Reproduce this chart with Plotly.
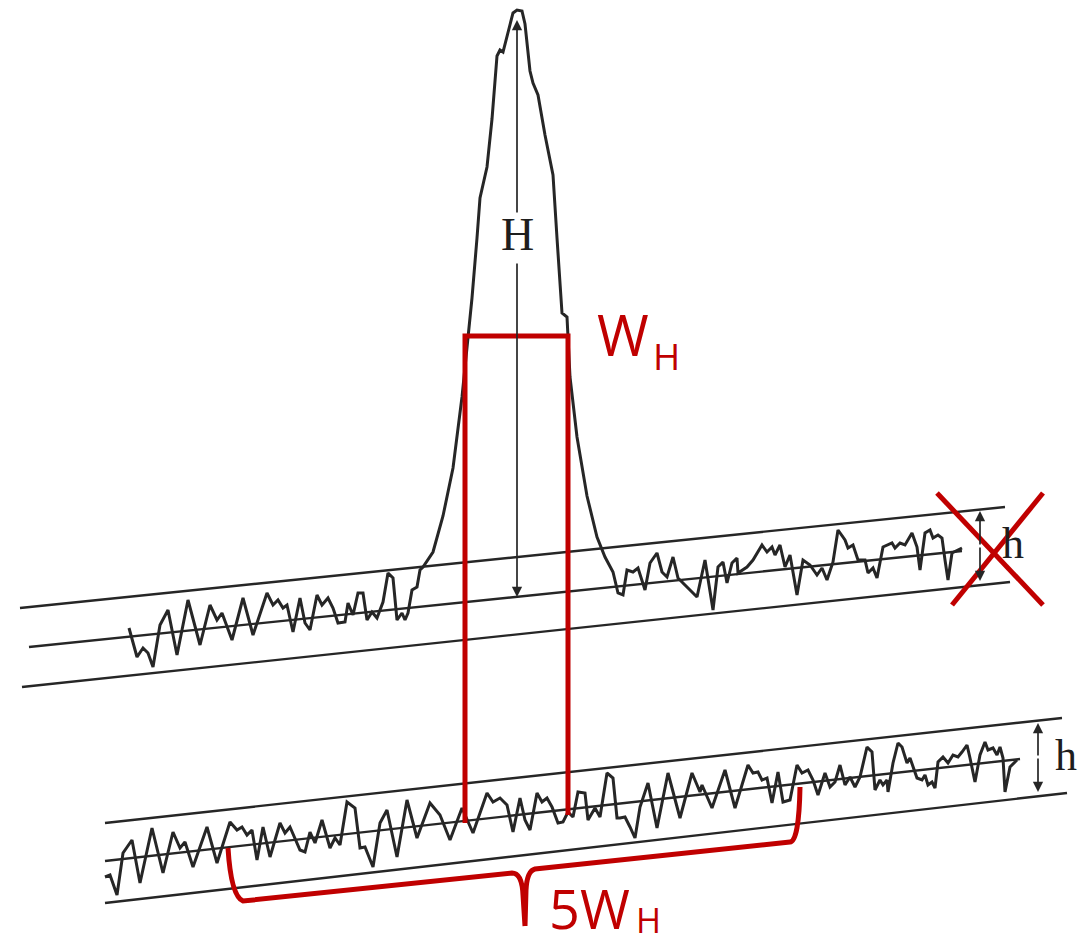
import plotly.graph_objects as go

# ---- data (pixel space of the 1080x946 figure) ----
# upper chromatogram: baseline noise left of the peak, the peak, baseline noise right of it
upper_left_x = [129, 137, 143, 148, 153, 160, 168, 177, 188, 200, 210, 217, 222, 232, 243, 253, 267, 273, 278, 283,
                287, 293, 300, 305, 310, 317, 322, 328, 333, 338, 345, 348, 353, 358, 363, 367, 372, 377, 383, 388,
                393, 397, 402, 405, 408, 412, 417, 420]
upper_left_y = [628, 657, 648, 653, 667, 625, 610, 655, 600, 645, 605, 620, 613, 640, 598, 635, 593, 605, 600, 608,
                605, 632, 598, 623, 630, 595, 605, 598, 608, 623, 622, 603, 615, 593, 593, 620, 612, 618, 602, 573,
                578, 620, 613, 620, 613, 590, 587, 570]
peak_x = [423, 433, 443, 453, 462, 467, 472, 477, 480, 487, 492, 497, 500, 503, 507, 510, 513, 517, 522, 525, 530,
          533, 538, 545, 553, 557, 562, 567, 568, 570, 577, 587, 597, 605, 613, 618, 623]
peak_y = [567, 552, 516, 468, 397, 345, 298, 238, 198, 167, 119, 56, 50, 52, 36, 22, 13, 10, 11, 24, 71,
          83, 95, 135, 175, 238, 313, 317, 337, 377, 437, 496, 537, 557, 572, 593, 595]
upper_right_x = [627, 633, 638, 645, 650, 657, 662, 667, 673, 678, 697, 705, 713, 718, 723, 727, 732, 737, 738, 747,
                 753, 762, 767, 772, 775, 780, 785, 790, 797, 803, 810, 817, 822, 827, 833, 838, 845, 848, 853, 858,
                 865, 868, 873, 877, 883, 892, 895, 900, 905, 912, 917, 920, 925, 930, 933, 938, 942, 945, 948, 952, 962]
upper_right_y = [570, 572, 568, 590, 563, 553, 572, 577, 557, 578, 597, 560, 610, 567, 562, 583, 563, 558, 573, 567,
                 560, 545, 552, 547, 555, 545, 567, 555, 595, 560, 565, 575, 568, 580, 562, 530, 540, 548, 545, 560,
                 560, 573, 568, 578, 547, 543, 548, 543, 545, 533, 547, 570, 533, 530, 538, 535, 538, 560, 580, 553, 548]

# lower chromatogram: baseline noise only
lower_x = [105, 110, 117, 123, 132, 140, 152, 163, 173, 180, 185, 193, 207, 217, 230, 237, 242, 247, 252, 257,
           263, 270, 280, 285, 290, 300, 305, 310, 315, 322, 330, 335, 340, 347, 355, 360, 365, 373, 380, 387,
           397, 407, 417, 430, 440, 450, 462, 473, 487, 493, 500, 507, 513, 520, 525, 530, 537, 542, 547, 552,
           558, 563, 568, 573, 578, 585, 588, 595, 600, 607, 613, 617, 620, 625, 630, 635, 640, 648, 657, 668,
           680, 692, 700, 702, 712, 725, 735, 748, 753, 758, 762, 767, 772, 778, 783, 790, 797, 802, 808, 813,
           818, 825, 830, 835, 840, 845, 850, 855, 860, 867, 872, 875, 880, 883, 887, 888, 893, 898, 902, 907,
           910, 917, 922, 925, 928, 932, 935, 938, 943, 948, 953, 958, 962, 967, 970, 975, 980, 985, 988, 993,
           997, 1000, 1003, 1005, 1010, 1017]
lower_y = [877, 875, 895, 853, 840, 883, 828, 873, 832, 848, 842, 867, 827, 863, 822, 830, 827, 835, 830, 860,
           827, 857, 823, 833, 827, 850, 852, 832, 843, 820, 848, 838, 845, 802, 808, 848, 847, 867, 823, 810,
           857, 800, 838, 803, 815, 840, 808, 833, 793, 802, 798, 805, 832, 798, 820, 830, 793, 802, 798, 807,
           823, 822, 812, 817, 792, 793, 820, 808, 817, 773, 778, 818, 818, 817, 827, 838, 807, 783, 828, 773,
           818, 773, 792, 785, 808, 770, 808, 765, 773, 772, 780, 778, 803, 772, 802, 800, 765, 773, 770, 780,
           795, 773, 787, 782, 765, 785, 777, 787, 777, 747, 752, 790, 780, 785, 780, 792, 763, 743, 747, 763,
           758, 778, 780, 775, 785, 782, 788, 762, 757, 763, 755, 757, 752, 745, 758, 782, 755, 742, 750, 748,
           755, 747, 758, 792, 767, 760]

# parallel baseline bands: (x0, y0, x1, y1)
upper_band = [(20, 608, 1005, 507), (29, 647, 962, 551), (22, 687, 1010, 582)]
lower_band = [(105, 823, 1062, 718), (105, 861, 1020, 759), (105, 903, 1067, 793)]

BLACK = "#262626"
RED = "#c00000"

fig = go.Figure()

shapes = []
for (x0, y0, x1, y1) in upper_band + lower_band:
    shapes.append(dict(type="line", x0=x0, y0=y0, x1=x1, y1=y1, xref="x", yref="y",
                       line=dict(color=BLACK, width=2.4)))

fig.add_trace(go.Scatter(x=upper_left_x + peak_x + upper_right_x,
                         y=upper_left_y + peak_y + upper_right_y,
                         mode="lines", line=dict(color=BLACK, width=3), hoverinfo="skip"))
fig.add_trace(go.Scatter(x=lower_x, y=lower_y, mode="lines",
                         line=dict(color=BLACK, width=3), hoverinfo="skip"))

# red overlays: W_H box, 5W_H brace, cross
shapes.append(dict(type="path", path="M465,823 L465,336 L568,336 L568,815", xref="x", yref="y",
                   line=dict(color=RED, width=5)))
shapes.append(dict(type="path",
                   path="M228,848 Q231,896 243,901 L512,873 Q522,873 523,895 L525,926 "
                        "M525,926 L526,890 Q527,871 535,869 L790,842 Q799,841 800,787",
                   xref="x", yref="y", line=dict(color=RED, width=5)))
shapes.append(dict(type="line", x0=937, y0=493, x1=1043, y1=605, xref="x", yref="y",
                   line=dict(color=RED, width=5)))
shapes.append(dict(type="line", x0=1043, y0=493, x1=952, y1=605, xref="x", yref="y",
                   line=dict(color=RED, width=5)))

ann = []
def arrow(xh, yh, xt, yt):
    ann.append(dict(x=xh, y=yh, ax=xt, ay=yt, xref="x", yref="y", axref="x", ayref="y",
                    text="", showarrow=True, arrowhead=2, arrowsize=1.2, arrowwidth=1.7,
                    arrowcolor=BLACK))

arrow(517, 20, 517, 214)
arrow(517, 597, 517, 262)
arrow(980, 511, 980, 546)
arrow(980, 581, 980, 546)
arrow(1038, 723, 1038, 757)
arrow(1038, 792, 1038, 757)

serif = "Liberation Serif"
ann.append(dict(x=517, y=234, xref="x", yref="y", text="H", showarrow=False,
                font=dict(family=serif, size=46, color="#1e1e1e")))
ann.append(dict(x=1013, y=543, xref="x", yref="y", text="h", showarrow=False,
                font=dict(family=serif, size=44, color="#1e1e1e")))
ann.append(dict(x=1066, y=755, xref="x", yref="y", text="h", showarrow=False,
                font=dict(family=serif, size=44, color="#1e1e1e")))

sans = "Open Sans"
ann.append(dict(x=623, y=334, xref="x", yref="y", text="W", showarrow=False,
                font=dict(family=sans, size=56, color=RED)))
ann.append(dict(x=666, y=355, xref="x", yref="y", text="H", showarrow=False,
                font=dict(family=sans, size=37, color=RED)))
ann.append(dict(x=589, y=908, xref="x", yref="y", text="5W", showarrow=False,
                font=dict(family=sans, size=54, color=RED)))
ann.append(dict(x=648, y=920, xref="x", yref="y", text="H", showarrow=False,
                font=dict(family=sans, size=34, color=RED)))

fig.update_layout(
    width=1080, height=946,
    margin=dict(l=0, r=0, t=0, b=0),
    paper_bgcolor="white", plot_bgcolor="white",
    showlegend=False,
    shapes=shapes, annotations=ann,
    xaxis=dict(range=[0, 1080], visible=False, fixedrange=True),
    yaxis=dict(range=[946, 0], visible=False, fixedrange=True),
)

fig.write_html("out.html", config={"displayModeBar": False, "staticPlot": True},
               post_script="document.body.style.margin='0px';document.body.style.overflow='hidden';")
